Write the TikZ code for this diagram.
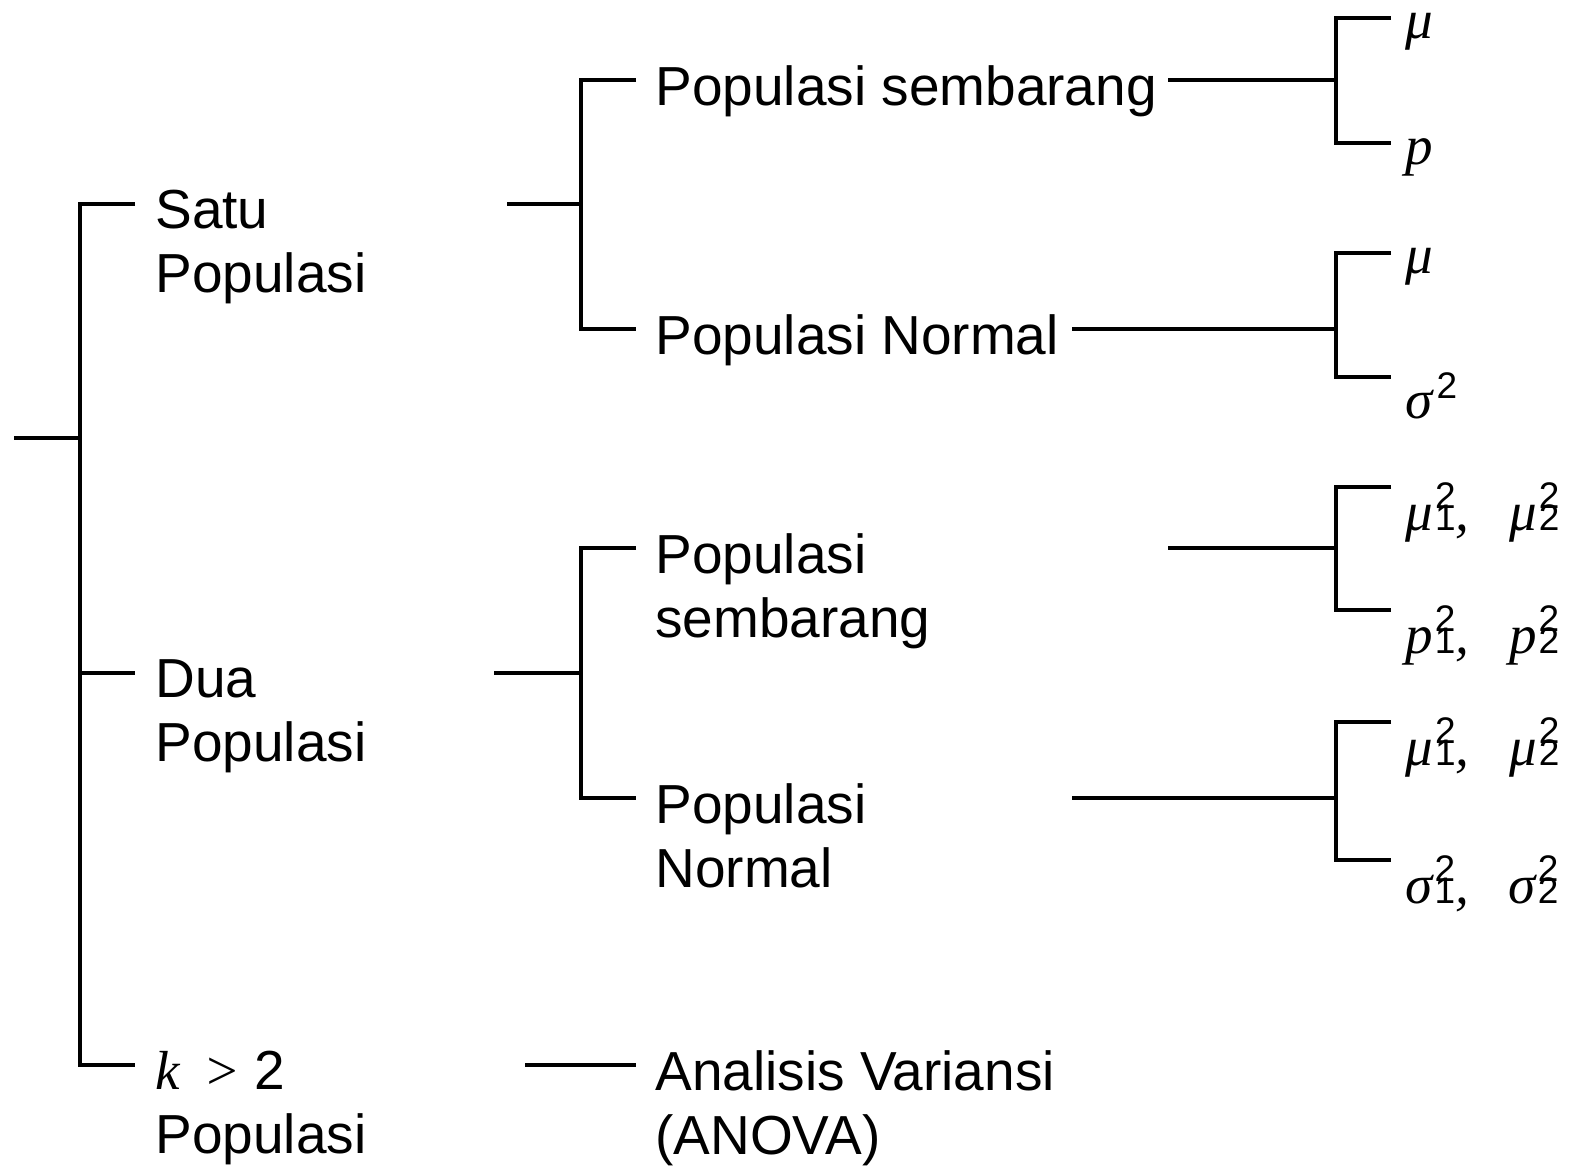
\documentclass[tikz,border=0pt]{standalone}
\usepackage{fontspec}
\setmainfont{Liberation Sans}
\newfontfamily\serifit{Liberation Serif}
\usetikzlibrary{positioning}

\newcommand{\ltr}[1]{{\serifit\itshape #1}}
\newcommand{\smallnum}{\fontsize{18.5}{18.5}\selectfont}
\newcommand{\sqsub}[1]{\kern1pt\makebox[0pt][l]{\raisebox{11pt}{\smallnum 2}}{\smallnum #1}}
\newcommand{\duo}[1]{\ltr{#1}\sqsub{1}\ltr{,}\hspace{20pt}\ltr{#1}\sqsub{2}}
\newcommand{\twolines}[2]{\begin{tabular}[t]{@{}l@{}}#1\\#2\end{tabular}}

\tikzset{
  branch/.style={line width=2pt},
  txt/.style={anchor=base west, inner sep=0pt, font=\fontsize{27.5}{32}\selectfont},
  leaf/.style={anchor=north west, inner sep=0pt, font=\fontsize{27.5}{30}\selectfont},
}

\begin{document}
\begin{tikzpicture}[x=0.5pt,y=-0.5pt]
  \useasboundingbox (0,0) rectangle (1573,1167);

  \coordinate (root) at (14,438);
  \coordinate (fork) at (80,438);
  \foreach \id/\ty/\txt in {satu/204/{\twolines{Satu}{Populasi}},
                            dua/673/{\twolines{Dua}{Populasi}},
                            banyak/1065/{\twolines{\ltr{k}\hspace{12pt}\ltr{>}\hspace{7pt}2}{Populasi}}} {
    \coordinate (t-\id) at (135,\ty);
    \node[txt] (\id) at ([shift={(20,24)}]t-\id) {\txt};
  }
  \draw[branch] (root) -- (fork);
  \draw[branch] (t-satu) -| (fork) |- (t-banyak);
  \draw[branch] (fork |- t-dua) -- (t-dua);

  \foreach \id/\ty/\txt in {sbr1/80/{Populasi sembarang},
                            nrm1/329/{Populasi Normal},
                            sbr2/548/{\twolines{Populasi}{sembarang}},
                            nrm2/798/{\twolines{Populasi}{Normal}},
                            anova/1065/{\twolines{Analisis Variansi}{(ANOVA)}}} {
    \coordinate (t-\id) at (636,\ty);
    \node[txt] (\id) at ([shift={(19,25)}]t-\id) {\txt};
  }
  \coordinate (s-satu) at (507,204);
  \coordinate (s-dua) at (494,673);
  \coordinate (s-banyak) at (525,1065);
  \coordinate (f-satu) at (581,204);
  \coordinate (f-dua) at (581,673);
  \draw[branch] (s-satu) -- (f-satu);
  \draw[branch] (t-sbr1) -| (f-satu) |- (t-nrm1);
  \draw[branch] (s-dua) -- (f-dua);
  \draw[branch] (t-sbr2) -| (f-dua) |- (t-nrm2);
  \draw[branch] (s-banyak) -- (t-anova);

  \foreach \id/\ty/\txt in {a/18/{\ltr{μ}}, b/143/{\ltr{p}},
                            c/253/{\ltr{μ}}, d/377/{\ltr{σ}\kern2pt\raisebox{10pt}{\smallnum 2}},
                            e/487/{\duo{μ}}, f/610/{\duo{p}},
                            g/722/{\duo{μ}}, h/860/{\duo{σ}}} {
    \coordinate (leaf-\id) at (1391,\ty);
    \node[leaf] (v-\id) at ([shift={(14,-5)}]leaf-\id) {\txt};
  }
  \foreach \up/\down/\sx/\ty in {a/b/1168/80, c/d/1072/329, e/f/1168/548, g/h/1072/798} {
    \coordinate (s-\up) at (\sx,\ty);
    \coordinate (k-\up) at (1336,\ty);
    \draw[branch] (s-\up) -- (k-\up);
    \draw[branch] (leaf-\up) -| (k-\up) |- (leaf-\down);
  }
\end{tikzpicture}
\end{document}
